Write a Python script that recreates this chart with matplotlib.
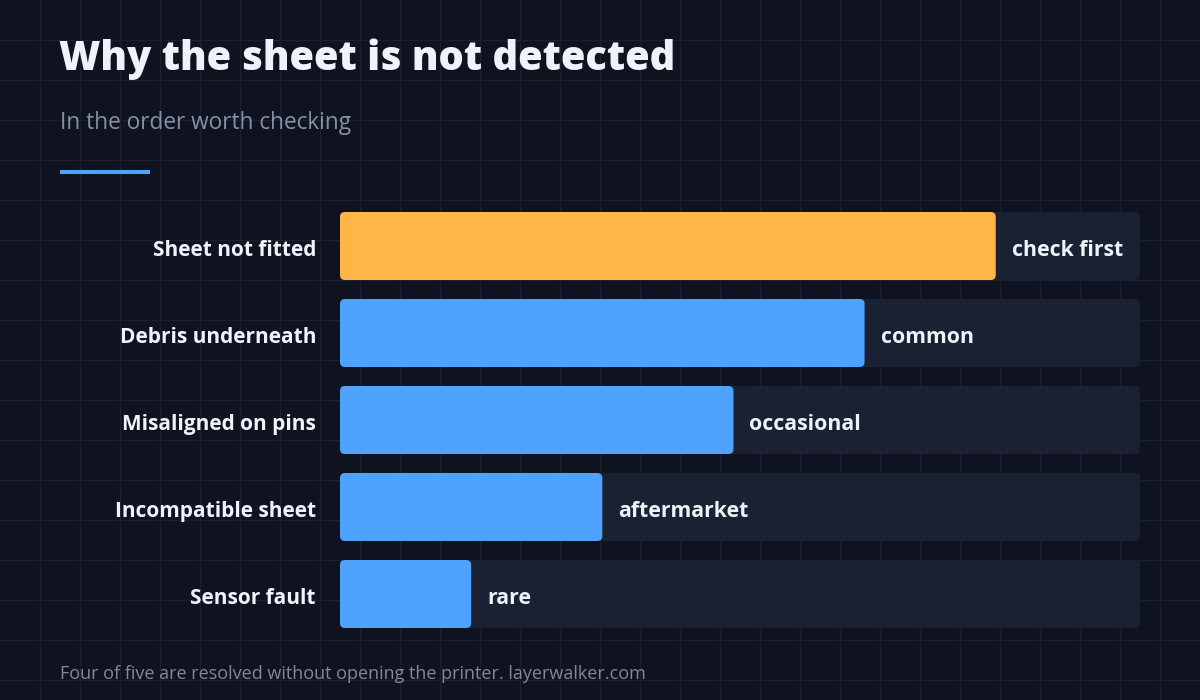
import matplotlib
matplotlib.use("Agg")
import matplotlib.pyplot as plt
from matplotlib.patches import FancyBboxPatch
from matplotlib import transforms

# données (rang relatif, échelle de la piste = 6.1)
causes = ["Sheet not fitted", "Debris underneath", "Misaligned on pins",
          "Incompatible sheet", "Sensor fault"]
scores = [5, 4, 3, 2, 1]
tags = ["check first", "common", "occasional", "aftermarket", "rare"]
track_max = 6.1

BG = "#0f131f"
GRID = "#1a2030"
TRACK = "#1a2133"
BLUE = "#4da3ff"
ORANGE = "#ffb547"
WHITE = "#eef2fa"

plt.rcParams["font.family"] = ["Open Sans", "DejaVu Sans"]

W, H = 1200, 700
fig = plt.figure(figsize=(W / 100, H / 100), dpi=100, facecolor=BG)

# fond en pixels : grille, titre, sous-titre, pied
bg = fig.add_axes([0, 0, 1, 1])
bg.set_xlim(0, W)
bg.set_ylim(H, 0)
bg.set_facecolor(BG)
bg.axis("off")
for gx in range(40, W, 40):
    bg.axvline(gx, color=GRID, lw=1, zorder=0)
for gy in range(40, H, 40):
    bg.axhline(gy, color=GRID, lw=1, zorder=0)

bg.text(59, 59, "Why the sheet is not detected", color=WHITE, fontsize=28.7,
        fontweight=800, va="center", ha="left")
bg.text(60, 123, "In the order worth checking", color="#8690a6", fontsize=16.3,
        va="center", ha="left")
bg.plot([60, 150], [172, 172], color=BLUE, lw=2.9, solid_capstyle="butt")
bg.text(60, 674, "Four of five are resolved without opening the printer. layerwalker.com",
        color="#7f899c", fontsize=13, va="center", ha="left")

# zone des barres
left, right = 340, 1140
top, bottom = 202.5, 637.5
ax = fig.add_axes([left / W, 1 - bottom / H, (right - left) / W, (bottom - top) / H])
ax.set_xlim(0, track_max)
ax.set_ylim(len(causes) - 0.5, -0.5)
ax.axis("off")
ax.patch.set_alpha(0)

bar_h = 68 / 87
px_x = track_max / (right - left)
px_y = len(causes) / (bottom - top)
rad = 5 * px_x
aspect = px_y / px_x

lab_tr = transforms.offset_copy(ax.transData, fig=fig, x=-24, y=-4.5, units="dots")
val_tr = transforms.offset_copy(ax.transData, fig=fig, x=16, y=-4.5, units="dots")

for i, (cause, s, tag) in enumerate(zip(causes, scores, tags)):
    y0 = i - bar_h / 2
    ax.add_patch(FancyBboxPatch((0, y0), track_max, bar_h,
                                boxstyle=f"round,pad=0,rounding_size={rad}",
                                mutation_aspect=aspect, fc=TRACK, ec="none", zorder=1))
    ax.add_patch(FancyBboxPatch((0, y0), s, bar_h,
                                boxstyle=f"round,pad=0,rounding_size={rad}",
                                mutation_aspect=aspect,
                                fc=ORANGE if i == 0 else BLUE, ec="none", zorder=2))
    ax.text(0, i, cause, transform=lab_tr, ha="right", va="center",
            color=WHITE, fontsize=15, fontweight="bold")
    ax.text(s, i, tag, transform=val_tr, ha="left", va="center",
            color=WHITE, fontsize=15.3, fontweight="bold")

fig.savefig("out.png", dpi=100, facecolor=BG)
